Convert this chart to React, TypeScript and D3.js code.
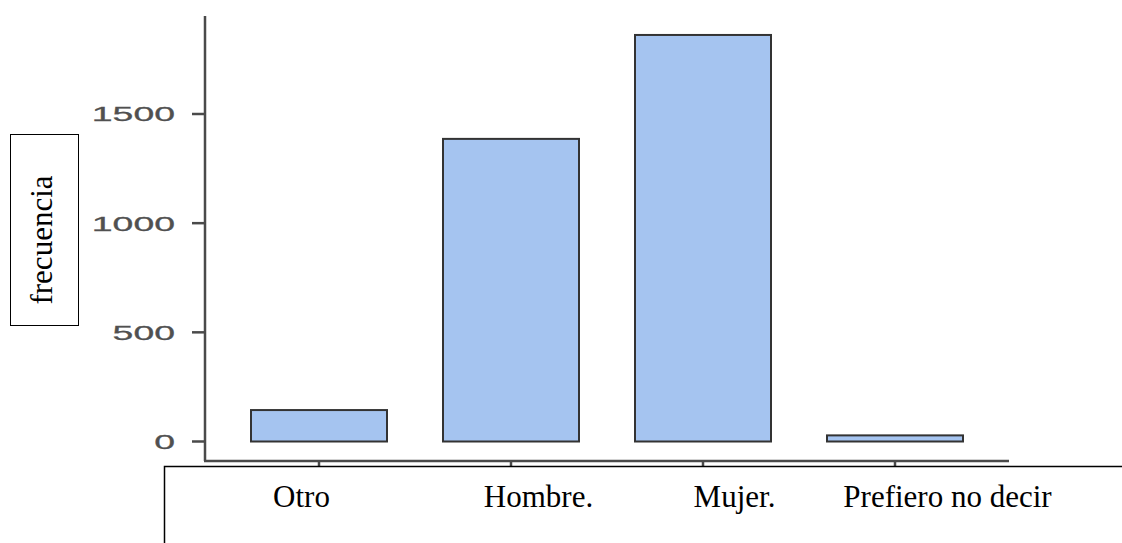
import React from "react";
import * as d3 from "d3";

const categories = ["Otro", "Hombre.", "Mujer.", "Prefiero no decir"];
const frequencies = [144, 1386, 1862, 28];
const yTicks = [0, 500, 1000, 1500];
const yLabel = "frecuencia";

// layout (pixels)
const W = 1122;
const H = 543;
const plot = { left: 205, right: 1009, top: 16, bottom: 461 };
const barRange: [number, number] = [223, 991];
// x label positions relative to bar centres, as in the original text box
const labelShift = [-17.5, 27.5, 31.5, 52.5];

const App = () => {
  const x = d3
    .scaleBand<string>()
    .domain(categories)
    .range(barRange)
    .paddingInner(0.2917)
    .paddingOuter(0.2917 / 2);
  const y = d3.scaleLinear().domain([0, 1500]).range([441.5, 114]);

  const axisColor = "#4a4a4a";

  return (
    <svg
      width={W}
      height={H}
      style={{ position: "absolute", left: 0, top: 0, background: "#fff" }}
    >
      {/* y axis */}
      <line
        x1={plot.left}
        x2={plot.left}
        y1={plot.top}
        y2={plot.bottom}
        stroke={axisColor}
        strokeWidth={2.5}
      />
      {yTicks.map((t) => {
        const s = String(t);
        return (
          <g key={t} transform={`translate(0,${y(t)})`}>
            <line
              x1={plot.left - 13}
              x2={plot.left}
              stroke={axisColor}
              strokeWidth={2.5}
            />
            <text
              x={plot.left - 30}
              dy="0.36em"
              textAnchor="end"
              fontFamily="Liberation Sans, Arial, sans-serif"
              fontSize={20.5}
              fill="#505050"
              stroke="#505050"
              strokeWidth={0.3}
              textLength={20.8 * s.length}
              lengthAdjust="spacingAndGlyphs"
            >
              {s}
            </text>
          </g>
        );
      })}

      {/* x axis */}
      <line
        x1={plot.left - 1}
        x2={plot.right}
        y1={plot.bottom}
        y2={plot.bottom}
        stroke={axisColor}
        strokeWidth={2.5}
      />
      {categories.map((c) => (
        <line
          key={c}
          x1={x(c)! + x.bandwidth() / 2}
          x2={x(c)! + x.bandwidth() / 2}
          y1={plot.bottom}
          y2={plot.bottom + 8}
          stroke={axisColor}
          strokeWidth={2.5}
        />
      ))}

      {/* bars */}
      {categories.map((c, i) => (
        <rect
          key={c}
          x={x(c)}
          y={y(frequencies[i])}
          width={x.bandwidth()}
          height={y(0) - y(frequencies[i])}
          fill="#a5c4f0"
          stroke="#333"
          strokeWidth={2}
        />
      ))}

      {/* y label box */}
      <rect x={10.5} y={134.5} width={68} height={191} fill="#fff" stroke="#000" strokeWidth={1} />
      <text
        transform="translate(52,240) rotate(-90)"
        textAnchor="middle"
        fontFamily="Liberation Serif, Times New Roman, serif"
        fontSize={31}
        fill="#000"
      >
        {yLabel}
      </text>

      {/* x label box */}
      <rect x={164.5} y={466.5} width={W} height={H} fill="#fff" stroke="#000" strokeWidth={1.5} />
      {categories.map((c, i) => (
        <text
          key={c}
          x={x(c)! + x.bandwidth() / 2 + labelShift[i]}
          y={507}
          textAnchor="middle"
          fontFamily="Liberation Serif, Times New Roman, serif"
          fontSize={31}
          fill="#000"
        >
          {c}
        </text>
      ))}
    </svg>
  );
};

export default App;
